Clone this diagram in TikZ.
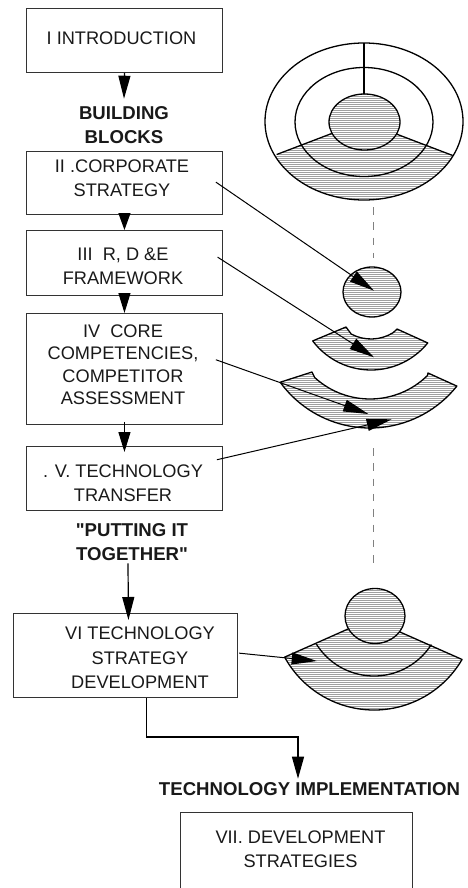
\documentclass[tikz,border=0pt]{standalone}
\usepackage{fontspec}
\setmainfont{Liberation Sans}[Ligatures=TeXOff]
\usetikzlibrary{arrows.meta,patterns.meta}
\begin{document}
\begin{tikzpicture}[x=1pt,y=1pt,
  box/.style={draw=black!80, line width=0.9pt, inner sep=0pt, anchor=north west},
  txt/.style={font=\fontsize{18.2pt}{24pt}\selectfont, align=center, inner sep=0pt, text=black!90},
  btxt/.style={txt, font=\fontsize{18.6pt}{24pt}\selectfont\bfseries},
  varr/.style={line width=1.2pt, -{Triangle[length=#1,width=12pt]}},
  varr/.default=20pt,
  link/.style={line width=1pt, -{Triangle[length=25pt,width=12pt]}},
  shp/.style={line width=1.3pt, draw=black},
  hatch/.style={pattern={Lines[angle=0,distance=2pt,line width=0.6pt]}, pattern color=gray!75},
  dsh/.style={draw=gray, line width=1pt, dash pattern=on 7.5pt off 7.8pt}
]
\useasboundingbox (0,0) rectangle (467,-888);
\clip (0,0) rectangle (467,-888);

% ---------- boxes ----------
\node[box, minimum width=196pt, minimum height=64pt]  (b1) at (26,-8) {};
\node[box, minimum width=196pt, minimum height=63pt]  (b2) at (26,-151) {};
\node[box, minimum width=196pt, minimum height=65pt]  (b3) at (26,-230) {};
\node[box, minimum width=196pt, minimum height=111pt] (b4) at (26,-313) {};
\node[box, minimum width=196pt, minimum height=64pt]  (b5) at (26,-446) {};
\node[box, minimum width=224pt, minimum height=84pt]  (b6) at (13,-613) {};
\node[box, minimum width=232pt, minimum height=110pt] (b7) at (180,-812) {};

% ---------- texts ----------
\node[txt] (t1) at (121.5,-38.2) {I INTRODUCTION};
\node[btxt] (bb) at (124,-125.5) {BUILDING\\BLOCKS};
\node[txt] (t2) at (122,-178) {II .CORPORATE\\STRATEGY};
\node[txt] (t3) at (123,-266) {III\ \ R, D \&E\\FRAMEWORK};
\node[txt, font=\fontsize{18.2pt}{22.5pt}\selectfont] (t4) at (123,-364.5) {IV\ \ CORE\\COMPETENCIES,\\COMPETITOR\\ASSESSMENT};
\node[txt] (t5) at (123,-482.8) {. V. TECHNOLOGY\\TRANSFER};
\node[btxt] (pt) at (132,-541.7) {"PUTTING IT\\TOGETHER"};
\node[txt, font=\fontsize{18.2pt}{24.5pt}\selectfont] (t6) at (140,-658) {VI TECHNOLOGY\\STRATEGY\\DEVELOPMENT};
\node[btxt] (ti) at (309.5,-789) {TECHNOLOGY IMPLEMENTATION};
\node[txt] (t7) at (300.5,-849) {VII. DEVELOPMENT\\STRATEGIES};

% ---------- left vertical arrows ----------
\draw[varr=23pt] (b1.south) -- ([yshift=8pt]bb.north);
\draw[varr=17pt] (b2.south) -- (b3.north);
\draw[varr=20pt] (b3.south) -- (b4.north);
\draw[varr=20pt] ([yshift=3pt]b4.south) -- ([yshift=-6pt]b5.north);
\draw[varr=23pt] ([xshift=-4pt,yshift=-3pt]pt.south) -- ([xshift=3pt,yshift=-7pt]b6.north);
\coordinate (elb) at (298,-737);
\coordinate (tipI) at ([yshift=3.5pt]ti.north);
\draw[varr=22pt] ([xshift=21pt]b6.south) |- (elb) -- (elb |- tipI);

% ---------- top target ----------
\begin{scope}
  \clip (364,-121.5) ellipse[x radius=99pt, y radius=78.5pt];
  \fill[hatch] (221.7,-175.5) -- (331.7,-133.5) -- (396.3,-134) -- (509.1,-177) -- (510,-230) -- (221.7,-230) -- cycle;
\end{scope}
\fill[white] (364.5,-122) ellipse[x radius=35.5pt, y radius=28pt];
\draw[shp, hatch] (364.5,-122) ellipse[x radius=35.5pt, y radius=28pt];
\draw[shp] (364,-121.5) ellipse[x radius=99pt, y radius=78.5pt];
\draw[shp] (364,-122) ellipse[x radius=69pt, y radius=54.5pt];
\draw[shp] (364,-43) -- (364,-94);
\draw[shp] (331.7,-133.5) -- (276.7,-154.5);
\draw[shp] (396.3,-134) -- (452.7,-155.5);

% ---------- dashed axis ----------
\draw[dsh] (373,-207) -- (373,-258);
\draw[dsh] (373,-448) -- (373,-565);

% ---------- exploded pieces ----------
\draw[shp, hatch] (372,-292) ellipse[x radius=29pt, y radius=25pt];
\draw[shp, hatch, line join=round]
  ([shift={(217:73pt)}]371,-297) arc[start angle=217, end angle=321, radius=73pt]
  -- (397,-329) -- ([shift={(302:42pt)}]371,-297) arc[start angle=302, end angle=242, radius=42pt]
  -- (346,-327) -- cycle;
\draw[shp, hatch, line join=round]
  ([shift={(216:111pt)}]370,-317) arc[start angle=216, end angle=321.5, radius=111pt]
  -- (428,-373) -- ([shift={(314.5:82pt)}]370,-317) arc[start angle=314.5, end angle=227.5, radius=82pt]
  -- (312,-372) -- cycle;

% ---------- bottom target ----------
\fill[hatch] ([shift={(208.8:102pt)}]374,-608) arc[start angle=208.8, end angle=329.7, radius=102pt]
  -- (400,-632) -- (348,-629) -- cycle;
\draw[shp, line join=round] (348,-629) -- ([shift={(208.8:102pt)}]374,-608)
  arc[start angle=208.8, end angle=329.7, radius=102pt] -- (400,-632);
\draw[shp] ([shift={(212:68pt)}]374,-608) arc[start angle=212, end angle=327.5, radius=68pt];
\fill[white] (375,-616) ellipse[x radius=30pt, y radius=27.5pt];
\draw[shp, hatch] (375,-616) ellipse[x radius=30pt, y radius=27.5pt];

% ---------- links to pieces ----------
\coordinate (c1) at (374,-290.7);
\coordinate (c2) at (374,-357.3);
\coordinate (c3) at (368.3,-414);
\coordinate (c4) at (391.7,-419.3);
\coordinate (c5) at (316.7,-661);
\draw[link] ([xshift=-7pt,yshift=0.8pt]b2.east) -- (c1);
\draw[link] ([xshift=-5.3pt,yshift=5.8pt]b3.east) -- (c2);
\draw[link] ([xshift=-7pt,yshift=9.2pt]b4.east) -- (c3);
\draw[link] ([xshift=-6pt,yshift=18.7pt]b5.east) -- (c4);
\draw[link] ([xshift=1.3pt,yshift=2.3pt]b6.east) -- (c5);
\end{tikzpicture}
\end{document}
